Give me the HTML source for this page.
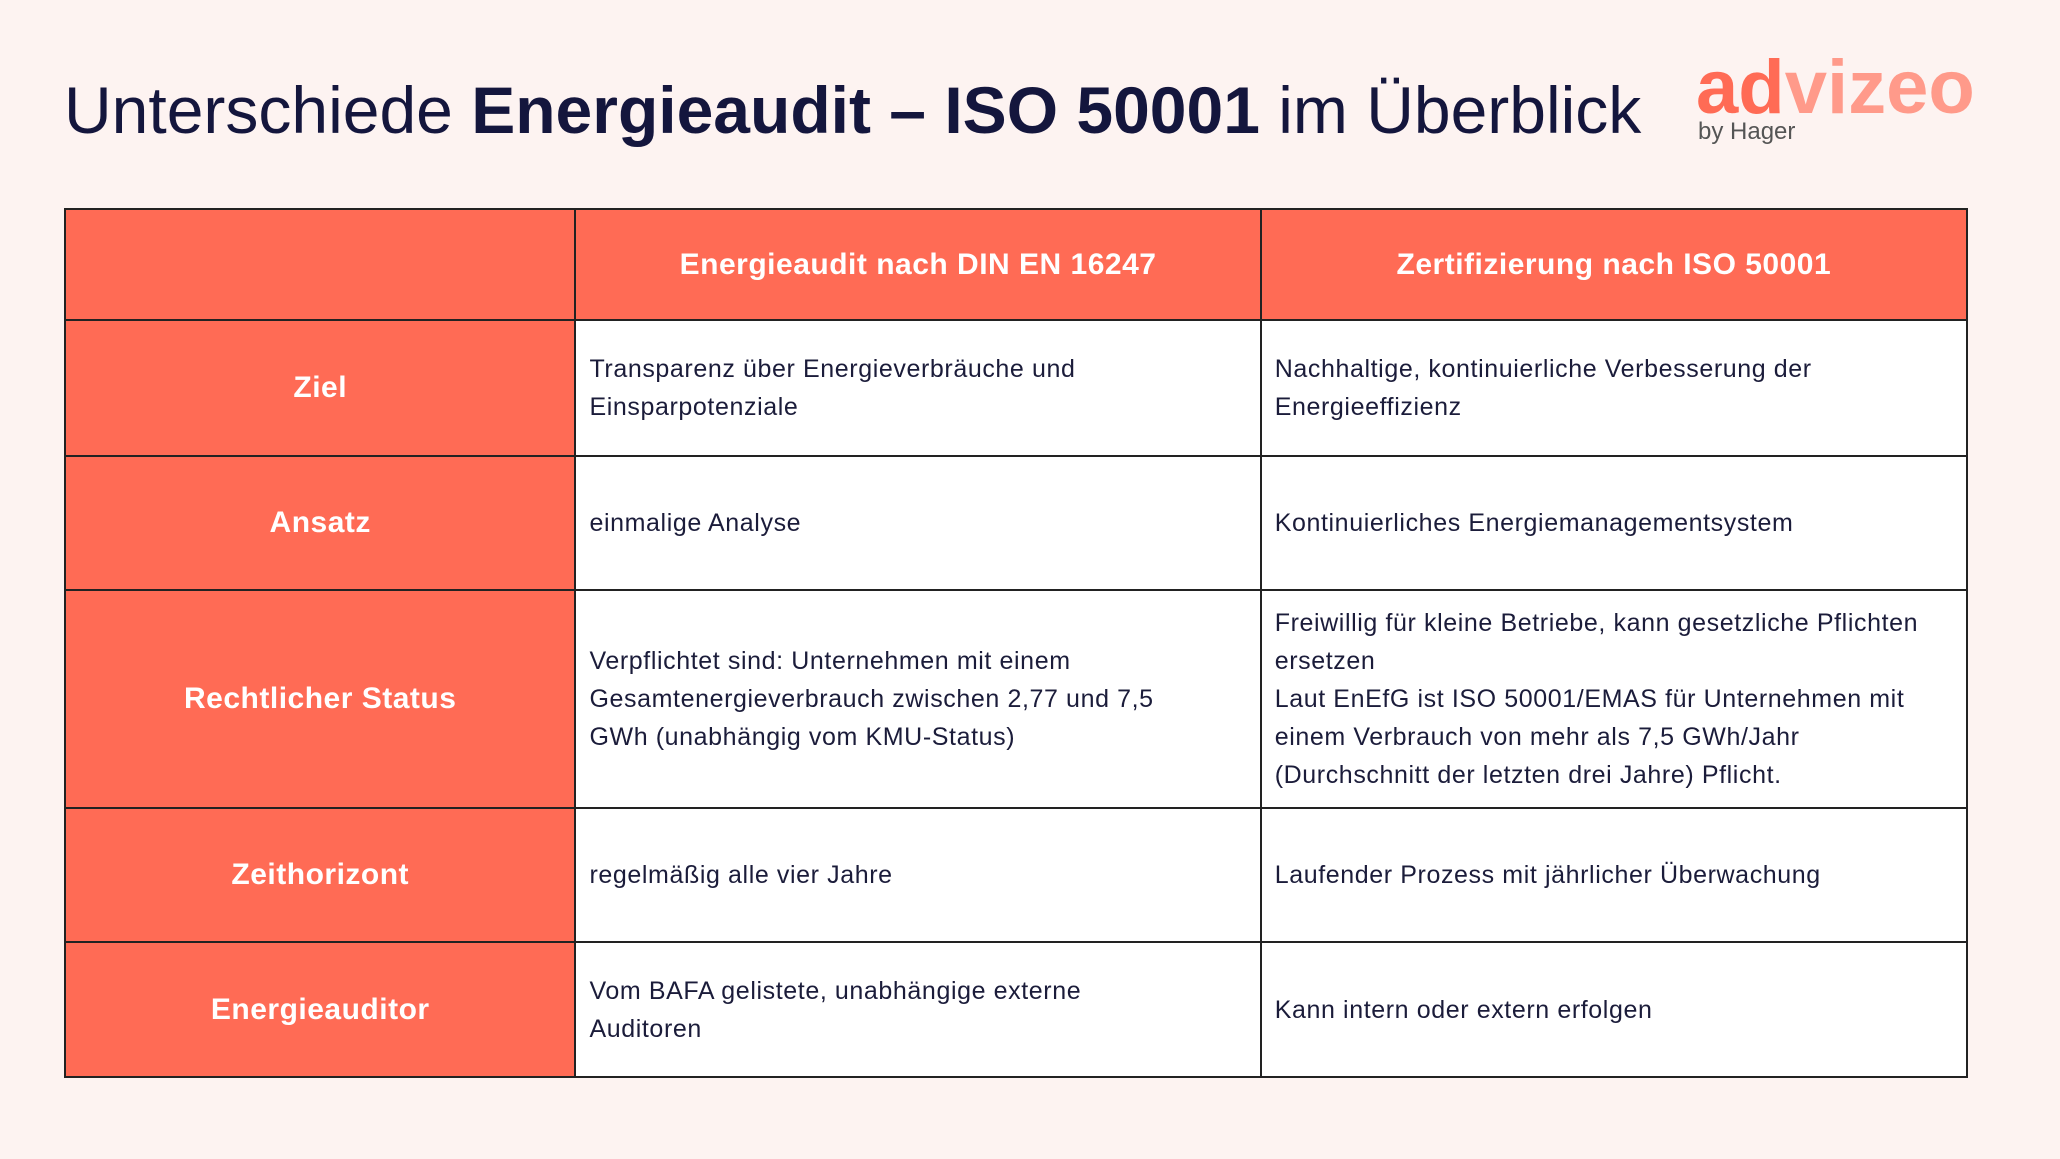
<!DOCTYPE html>
<html><head><meta charset="utf-8"><style>
body{margin:0;width:2060px;height:1159px;background:#fdf3f1;font-family:"Liberation Sans",sans-serif;position:relative;overflow:hidden;color:#1b1c3a}
h1{position:absolute;left:64px;top:72px;margin:0;font-weight:normal;font-size:66px;color:#14163d;white-space:nowrap;letter-spacing:0px}
h1 b{font-weight:bold}
.logo{position:absolute;left:1696px;top:44px;font-size:76px;font-weight:bold;color:#ff6b55;letter-spacing:0px}
.logo span{color:#ff9a8a}
.by{position:absolute;left:1698px;top:118px;font-size:24px;color:#555}
table{position:absolute;left:64px;top:208px;border-collapse:collapse;width:1904px}
td{border:2px solid #222;font-size:25px;line-height:38px;padding:0 13px;vertical-align:middle;letter-spacing:0.6px}
td.h{background:#ff6b55;color:#fff;font-weight:bold;text-align:center;font-size:30px;letter-spacing:0.5px}
td.w{background:#fff}
</style></head><body>
<h1>Unterschiede <b>Energieaudit – ISO 50001</b> im Überblick</h1>
<div class="logo">ad<span>vizeo</span></div>
<div class="by">by Hager</div>
<table>
<colgroup><col style="width:511px"><col style="width:686px"><col style="width:707px"></colgroup>
<tr style="height:111px"><td class="h"></td><td class="h">Energieaudit nach DIN EN 16247</td><td class="h">Zertifizierung nach ISO 50001</td></tr>
<tr style="height:136px"><td class="h">Ziel</td><td class="w">Transparenz über Energieverbräuche und<br>Einsparpotenziale</td><td class="w">Nachhaltige, kontinuierliche Verbesserung der<br>Energieeffizienz</td></tr>
<tr style="height:134px"><td class="h">Ansatz</td><td class="w">einmalige Analyse</td><td class="w">Kontinuierliches Energiemanagementsystem</td></tr>
<tr style="height:218px"><td class="h">Rechtlicher Status</td><td class="w">Verpflichtet sind: Unternehmen mit einem<br>Gesamtenergieverbrauch zwischen 2,77 und 7,5<br>GWh (unabhängig vom KMU-Status)</td><td class="w">Freiwillig für kleine Betriebe, kann gesetzliche Pflichten<br>ersetzen<br>Laut EnEfG ist ISO 50001/EMAS für Unternehmen mit<br>einem Verbrauch von mehr als 7,5 GWh/Jahr<br>(Durchschnitt der letzten drei Jahre) Pflicht.</td></tr>
<tr style="height:134px"><td class="h">Zeithorizont</td><td class="w">regelmäßig alle vier Jahre</td><td class="w">Laufender Prozess mit jährlicher Überwachung</td></tr>
<tr style="height:135px"><td class="h">Energieauditor</td><td class="w">Vom BAFA gelistete, unabhängige externe<br>Auditoren</td><td class="w">Kann intern oder extern erfolgen</td></tr>
</table>
</body></html>
